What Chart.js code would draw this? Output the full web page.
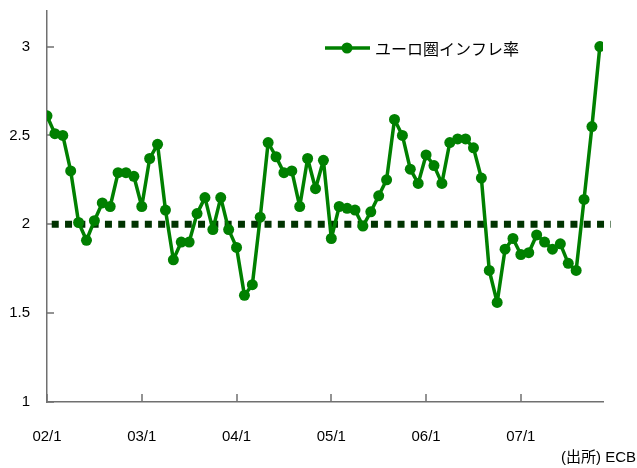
<!DOCTYPE html>
<html>
<head>
<meta charset="utf-8">
<script src="https://cdn.jsdelivr.net/npm/chart.js@4"></script>
<style>
  html, body { margin: 0; padding: 0; background: #fff; }
</style>
</head>
<body>
<canvas id="chart" width="637" height="468"></canvas>
<script>
// monthly euro area inflation, 2002/1 .. 2007/11
const seriesLabel = "ユーロ圏インフレ率";
const inflation = [
  2.61, 2.51, 2.50, 2.30, 2.01, 1.91, 2.02, 2.12, 2.10, 2.29, 2.29, 2.27,
  2.10, 2.37, 2.45, 2.08, 1.80, 1.90, 1.90, 2.06, 2.15, 1.97, 2.15, 1.97,
  1.87, 1.60, 1.66, 2.04, 2.46, 2.38, 2.29, 2.30, 2.10, 2.37, 2.20, 2.36,
  1.92, 2.10, 2.09, 2.08, 1.99, 2.07, 2.16, 2.25, 2.59, 2.50, 2.31, 2.23,
  2.39, 2.33, 2.23, 2.46, 2.48, 2.48, 2.43, 2.26, 1.74, 1.56, 1.86, 1.92,
  1.83, 1.84, 1.94, 1.90, 1.86, 1.89, 1.78, 1.74, 2.14, 2.55, 3.00
];
const yearTickPositions = [0, 12, 24, 36, 48, 60];
const yearTickLabels = ["02/1", "03/1", "04/1", "05/1", "06/1", "07/1"];
const yTickValues = [1, 1.5, 2, 2.5, 3];
const targetLevel = 2;
const sourceNote = "(出所) ECB";

const AXIS_COLOR = "#707070";
const LINE_COLOR = "#008000";
const TARGET_COLOR = "#003300";
const LATIN_FONT = "'Liberation Sans', Arial, sans-serif";
const JP_FONT = "'Noto Sans CJK JP', sans-serif";

// inward tick marks, legend and source note
const overlay = {
  id: "overlay",
  beforeDatasetsDraw(chart) {
    const ctx = chart.ctx;
    const { x, y } = chart.scales;
    ctx.save();
    ctx.strokeStyle = AXIS_COLOR;
    ctx.lineWidth = 1.5;
    ctx.beginPath();
    x.ticks.forEach((t) => {
      const px = Math.round(x.getPixelForValue(t.value));
      ctx.moveTo(px, y.bottom);
      ctx.lineTo(px, y.bottom - 8);
    });
    y.ticks.forEach((t) => {
      const py = Math.round(y.getPixelForValue(t.value));
      ctx.moveTo(x.left, py);
      ctx.lineTo(x.left + 7, py);
    });
    ctx.stroke();
    ctx.restore();
  },
  afterDraw(chart) {
    const ctx = chart.ctx;
    ctx.save();
    // legend
    const lx = 325, ly = 48;
    ctx.strokeStyle = LINE_COLOR;
    ctx.lineWidth = 3.5;
    ctx.beginPath();
    ctx.moveTo(lx, ly);
    ctx.lineTo(lx + 45, ly);
    ctx.stroke();
    ctx.fillStyle = LINE_COLOR;
    ctx.beginPath();
    ctx.arc(lx + 22, ly, 5.5, 0, Math.PI * 2);
    ctx.fill();
    ctx.fillStyle = "#000";
    ctx.font = "16px " + JP_FONT;
    ctx.textAlign = "left";
    ctx.textBaseline = "middle";
    ctx.fillText(seriesLabel, lx + 50, ly + 1);
    // source
    ctx.font = "15px 'Liberation Sans', " + JP_FONT;
    ctx.textAlign = "right";
    ctx.fillText(sourceNote, 636, 458);
    ctx.restore();
  },
};

const ctx = document.getElementById("chart").getContext("2d");
new Chart(ctx, {
  type: "line",
  data: {
    datasets: [
      {
        label: seriesLabel,
        data: inflation.map((v, i) => ({ x: i, y: v })),
        borderColor: LINE_COLOR,
        backgroundColor: LINE_COLOR,
        borderWidth: 3.5,
        borderJoinStyle: "round",
        borderCapStyle: "round",
        pointRadius: 5.5,
        pointBorderWidth: 0,
        pointBackgroundColor: LINE_COLOR,
        tension: 0,
        order: 1,
      },
      {
        label: "target",
        data: [
          { x: 0.6, y: targetLevel },
          { x: inflation.length + 0.4, y: targetLevel },
        ],
        borderColor: TARGET_COLOR,
        borderWidth: 7,
        borderDash: [7, 6.3],
        borderCapStyle: "butt",
        pointRadius: 0,
        clip: false,
        order: 2,
      },
    ],
  },
  options: {
    responsive: false,
    animation: false,
    devicePixelRatio: 1,
    layout: { padding: { top: 11, right: 34, left: 0, bottom: 0 } },
    plugins: {
      legend: { display: false },
      tooltip: { enabled: false },
    },
    scales: {
      x: {
        type: "linear",
        min: 0,
        max: 70.4,
        afterBuildTicks: (scale) => {
          scale.ticks = yearTickPositions.map((v) => ({ value: v }));
        },
        afterFit: (scale) => {
          scale.height = 66;
          scale.paddingLeft = 0;
          scale.paddingRight = 0;
        },
        grid: { display: false, drawTicks: false },
        border: { display: true, color: AXIS_COLOR, width: 1.5 },
        ticks: {
          padding: 26,
          color: "#000",
          font: { family: LATIN_FONT, size: 15 },
          maxRotation: 0,
          autoSkip: false,
          callback: (value) => yearTickLabels[yearTickPositions.indexOf(value)],
        },
      },
      y: {
        min: 1,
        max: 3.2,
        afterBuildTicks: (scale) => {
          scale.ticks = yTickValues.map((v) => ({ value: v }));
        },
        afterFit: (scale) => {
          scale.width = 47;
          scale.paddingTop = 0;
          scale.paddingBottom = 0;
        },
        grid: { display: false, drawTicks: false },
        border: { display: true, color: AXIS_COLOR, width: 1.5 },
        ticks: {
          padding: 17,
          color: "#000",
          font: { family: LATIN_FONT, size: 15 },
          callback: (value) => String(value),
        },
      },
    },
  },
  plugins: [overlay],
});
</script>
</body>
</html>
